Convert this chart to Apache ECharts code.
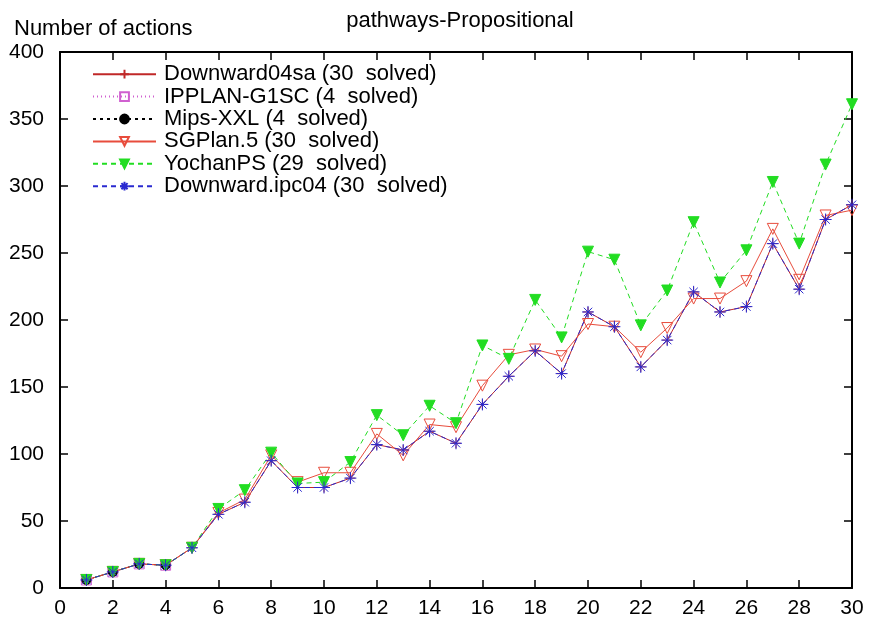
<!DOCTYPE html>
<html>
<head>
<meta charset="utf-8">
<script src="https://cdn.jsdelivr.net/npm/echarts@6/dist/echarts.min.js"></script>
<style>
  html, body { margin: 0; padding: 0; background: #fff; }
  #chart { width: 870px; height: 621px; }
</style>
</head>
<body>
<div id="chart"></div>
<script>
// problem number on x, number of actions on y
const problems = Array.from({ length: 30 }, (_, i) => i + 1);
const downward04sa = [6, 12, 18, 17, 30, 55, 64, 95, 75, 75, 82, 107, 103, 117, 108, 137, 158, 177, 160, 206, 195, 165, 185, 221, 206, 210, 257, 223, 275, 286];
const ipplan = [6, 12, 18, 17];
const mipsXXL = [6, 12, 18, 17];
const sgplan = [6, 12, 18, 17, 30, 56, 66, 99, 79, 86, 86, 115, 99, 122, 120, 151, 174, 178, 173, 197, 195, 176, 194, 216, 216, 229, 268, 230, 278, 282];
const yochan = [6, 12, 18, 17, 30, 59, 73, 101, 78, 79, 94, 129, 114, 136, 123, 181, 171, 215, 187, 251, 245, 196, 222, 273, 228, 252, 303, 257, 316, 361];
const downwardIpc04 = [6, 12, 18, 17, 30, 55, 64, 95, 75, 75, 82, 107, 103, 117, 108, 137, 158, 177, 160, 206, 195, 165, 185, 221, 206, 210, 257, 223, 275, 286];
const xTicks = [0, 2, 4, 6, 8, 10, 12, 14, 16, 18, 20, 22, 24, 26, 28, 30];
const yTicks = [0, 50, 100, 150, 200, 250, 300, 350, 400];

const FONT = 'Liberation Sans';
const plusIcon = 'path://M5 0V10M0 5H10';
const starIcon = 'path://M5 0V10M0 5H10M1.5 1.5L8.5 8.5M1.5 8.5L8.5 1.5';

function pairs(vals) {
    return vals.map((v, i) => [problems[i], v]);
}

function makeSeries(name, vals, color, dash, symbol, size, fill, rotate) {
    return {
        name: name,
        type: 'line',
        data: pairs(vals),
        symbol: symbol,
        symbolSize: size,
        symbolRotate: rotate || 0,
        showAllSymbol: true,
        lineStyle: { color: color, width: 1, type: dash },
        itemStyle: { color: fill, borderColor: color, borderWidth: 1 },
        emphasis: { disabled: true },
        animation: false
    };
}

const chart = echarts.init(document.getElementById('chart'));

const axisCommon = {
    type: 'value',
    axisLine: { show: true, onZero: false, lineStyle: { color: '#000', width: 2 } },
    axisTick: { show: true, inside: true, length: 8, lineStyle: { color: '#000', width: 1.5 } },
    splitLine: { show: false }
};

chart.setOption({
    backgroundColor: '#fff',
    animation: false,
    title: {
        text: 'pathways-Propositional',
        left: 455, top: 5, textAlign: 'center',
        textStyle: { fontFamily: FONT, fontSize: 22, fontWeight: 'normal', color: '#000' }
    },
    graphic: [{
        type: 'text', left: 14, top: 18,
        style: { text: 'Number of actions', font: '22px "Liberation Sans"', fill: '#000' }
    }],
    legend: {
        orient: 'vertical',
        left: 87, top: 58,
        itemWidth: 63, itemHeight: 11, itemGap: 0,
        textStyle: { fontFamily: FONT, fontSize: 22, color: '#000', lineHeight: 22.4, padding: [0, 0, 0, 3] },
        data: ['Downward04sa (30  solved)', 'IPPLAN-G1SC (4  solved)', 'Mips-XXL (4  solved)',
               'SGPlan.5 (30  solved)', 'YochanPS (29  solved)', 'Downward.ipc04 (30  solved)']
    },
    grid: { left: 60, right: 18, top: 52, bottom: 33, containLabel: false },
    xAxis: [
        Object.assign({}, axisCommon, {
            min: 0, max: 30, interval: 2,
            axisLabel: { color: '#000', fontFamily: FONT, fontSize: 21, margin: 10,
                formatter: v => xTicks.includes(v) ? String(v) : '' }
        }),
        Object.assign({}, axisCommon, {
            position: 'top', min: 0, max: 30, interval: 2, axisLabel: { show: false }
        })
    ],
    yAxis: [
        Object.assign({}, axisCommon, {
            min: 0, max: 400, interval: 50,
            axisLabel: { color: '#000', fontFamily: FONT, fontSize: 21, margin: 16,
                formatter: v => yTicks.includes(v) ? String(v) : '' }
        }),
        Object.assign({}, axisCommon, {
            position: 'right', min: 0, max: 400, interval: 50, axisLabel: { show: false }
        })
    ],
    series: [
        makeSeries('Downward04sa (30  solved)', downward04sa, '#c02828', 'solid', plusIcon, 10, '#c02828'),
        makeSeries('IPPLAN-G1SC (4  solved)', ipplan, '#d060d0', [1, 3], 'rect', 10, 'rgba(255,255,255,0)'),
        makeSeries('Mips-XXL (4  solved)', mipsXXL, '#000000', [3, 4], 'circle', 9, '#000000'),
        makeSeries('SGPlan.5 (30  solved)', sgplan, '#e84c3c', 'solid', 'triangle', 11, 'rgba(255,255,255,0)', 180),
        makeSeries('YochanPS (29  solved)', yochan, '#22dd22', [5, 4], 'triangle', 11, '#22dd22', 180),
        makeSeries('Downward.ipc04 (30  solved)', downwardIpc04, '#2a2ad0', [5, 4], starIcon, 12, '#2a2ad0')
    ]
});
</script>
</body>
</html>
